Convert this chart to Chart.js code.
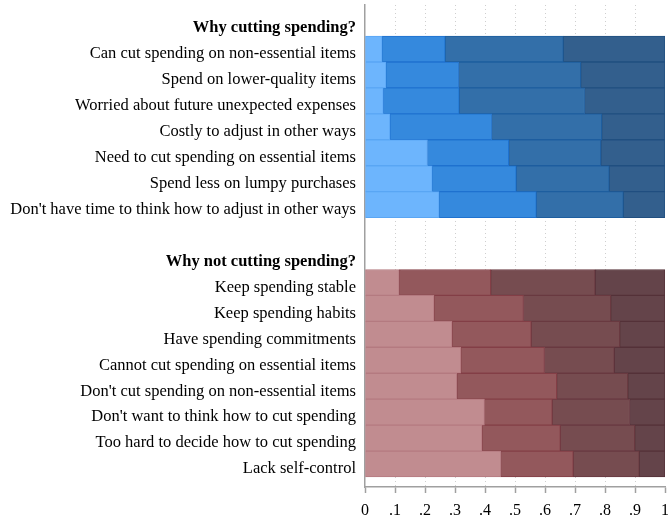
<!DOCTYPE html>
<html lang="en">
<head>
    <meta charset="UTF-8">
    <title>Why cutting spending?</title>
    <style>
        body {
            margin: 0;
            padding: 0;
            background-color: #ffffff;
        }

        .chart-box {
            position: relative;
            width: 668px;
            height: 519px;
        }
    </style>
</head>
<body>

    <div class="chart-box">
        <canvas id="reasonsChart"></canvas>
    </div>

    <script src="https://cdn.jsdelivr.net/npm/chart.js"></script>
    <script>
        // Reasons, top group (blue) and bottom group (red)
        var cutLabels = [
            'Can cut spending on non-essential items',
            'Spend on lower-quality items',
            'Worried about future unexpected expenses',
            'Costly to adjust in other ways',
            'Need to cut spending on essential items',
            'Spend less on lumpy purchases',
            "Don't have time to think how to adjust in other ways"
        ];
        var notCutLabels = [
            'Keep spending stable',
            'Keep spending habits',
            'Have spending commitments',
            'Cannot cut spending on essential items',
            "Don't cut spending on non-essential items",
            "Don't want to think how to cut spending",
            'Too hard to decide how to cut spending',
            'Lack self-control'
        ];
        var cutHeader = 'Why cutting spending?';
        var notCutHeader = 'Why not cutting spending?';

        // Shares of each answer level (4 levels, each row sums to 1)
        var cutShare1 = [0.057, 0.070, 0.061, 0.083, 0.208, 0.224, 0.247];
        var cutShare2 = [0.210, 0.242, 0.253, 0.339, 0.271, 0.280, 0.324];
        var cutShare3 = [0.394, 0.407, 0.418, 0.367, 0.307, 0.310, 0.290];
        var cutShare4 = [0.339, 0.281, 0.268, 0.211, 0.214, 0.186, 0.139];

        var notCutShare1 = [0.114, 0.230, 0.290, 0.319, 0.306, 0.398, 0.390, 0.452];
        var notCutShare2 = [0.305, 0.298, 0.264, 0.279, 0.333, 0.226, 0.261, 0.242];
        var notCutShare3 = [0.348, 0.291, 0.295, 0.233, 0.237, 0.258, 0.248, 0.220];
        var notCutShare4 = [0.233, 0.181, 0.151, 0.169, 0.124, 0.118, 0.101, 0.086];

        // x axis ticks
        var xTicks = [0, 0.1, 0.2, 0.3, 0.4, 0.5, 0.6, 0.7, 0.8, 0.9, 1];

        var blueFill = ['#6db5fd', '#3589dd', '#336fa9', '#335f8d'];
        var blueBorder = ['#5aa6f4', '#1f72cf', '#1e5e9f', '#214f80'];
        var redFill = ['#c18c90', '#93585c', '#764c50', '#64444a'];
        var redBorder = ['#b47a80', '#833e46', '#693940', '#543138'];

        // One row per label: header, blue rows, blank, header, red rows
        var rowLabels = [cutHeader].concat(cutLabels, [''], [notCutHeader], notCutLabels);
        var cutStart = 1;
        var notCutStart = cutLabels.length + 3;
        var headerRows = [0, cutLabels.length + 2];

        function toPoints(values, start) {
            return values.map(function(v, i) {
                return { x: v, y: start + i };
            });
        }

        var datasets = [];
        [cutShare1, cutShare2, cutShare3, cutShare4].forEach(function(values, k) {
            datasets.push({
                label: 'cut ' + (k + 1),
                data: toPoints(values, cutStart),
                backgroundColor: blueFill[k],
                borderColor: blueBorder[k],
                borderWidth: 1,
                borderSkipped: false,
                stack: 'all'
            });
        });
        [notCutShare1, notCutShare2, notCutShare3, notCutShare4].forEach(function(values, k) {
            datasets.push({
                label: 'not cut ' + (k + 1),
                data: toPoints(values, notCutStart),
                backgroundColor: redFill[k],
                borderColor: redBorder[k],
                borderWidth: 1,
                borderSkipped: false,
                stack: 'all'
            });
        });

        var serif = "'Liberation Serif', 'DejaVu Serif', serif";

        var config = {
            type: 'bar',
            data: { datasets: datasets },
            options: {
                indexAxis: 'y',
                responsive: true,
                maintainAspectRatio: false,
                animation: false,
                barPercentage: 1,
                categoryPercentage: 1,
                layout: {
                    padding: { top: 5, right: 3, left: 0, bottom: 0 }
                },
                plugins: {
                    legend: { display: false },
                    tooltip: { enabled: false }
                },
                scales: {
                    x: {
                        type: 'linear',
                        stacked: true,
                        min: 0,
                        max: 1,
                        afterBuildTicks: function(scale) {
                            scale.ticks = xTicks.map(function(v) { return { value: v }; });
                        },
                        afterFit: function(scale) {
                            // fixed axis height, no extra room for the end labels
                            scale.height = 32;
                            scale.paddingLeft = 0;
                            scale.paddingRight = 0;
                        },
                        ticks: {
                            autoSkip: false,
                            maxRotation: 0,
                            padding: 8,
                            color: '#000',
                            font: { family: serif, size: 16 },
                            callback: function(value) {
                                if (value === 0) return '0';
                                if (value === 1) return '1';
                                return '.' + Math.round(value * 10);
                            }
                        },
                        grid: {
                            color: function(ctx) {
                                var v = ctx.tick ? ctx.tick.value : 0;
                                return (v === 0 || v === 1) ? 'rgba(0,0,0,0)' : '#cfcfcf';
                            },
                            lineWidth: 1,
                            tickColor: '#a0a0a0',
                            tickLength: 6,
                            tickWidth: 1.5
                        },
                        border: {
                            display: true,
                            color: '#a0a0a0',
                            width: 1.5,
                            dash: [1, 3]
                        }
                    },
                    y: {
                        type: 'linear',
                        stacked: true,
                        reverse: true,
                        offset: false,
                        min: -0.696,
                        max: 17.886,
                        afterBuildTicks: function(scale) {
                            scale.ticks = rowLabels.map(function(_, i) { return { value: i }; });
                        },
                        afterFit: function(scale) {
                            scale.width = 365;
                            scale.paddingTop = 0;
                            scale.paddingBottom = 0;
                        },
                        ticks: {
                            autoSkip: false,
                            padding: 9,
                            labelOffset: 5,
                            color: '#000',
                            font: function(ctx) {
                                var isHeader = ctx.tick && headerRows.indexOf(ctx.tick.value) !== -1;
                                return { family: serif, size: 16.5, weight: isHeader ? 'bold' : 'normal' };
                            },
                            callback: function(value) {
                                return rowLabels[value];
                            }
                        },
                        grid: {
                            display: false,
                            offset: false,
                            drawTicks: false,
                            tickLength: 0
                        },
                        border: {
                            display: true,
                            color: '#a0a0a0',
                            width: 1.5
                        }
                    }
                }
            }
        };

        var ctx = document.getElementById('reasonsChart').getContext('2d');
        window.reasonsChart = new Chart(ctx, config);
    </script>
</body>
</html>
